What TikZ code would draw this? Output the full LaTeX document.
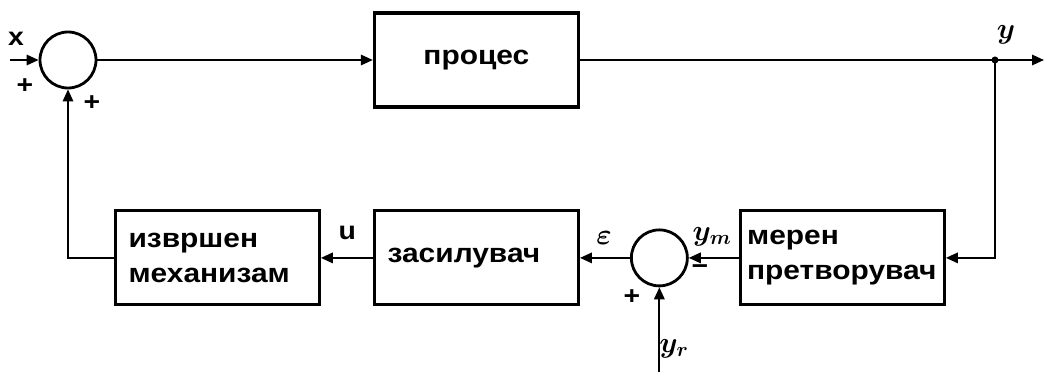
\documentclass[tikz,border=0pt]{standalone}
\usepackage{fontspec}
\setmainfont{Liberation Sans}[FakeStretch=1.12]
\usetikzlibrary{shapes,arrows.meta,positioning}

\begin{document}
\begin{tikzpicture}[
	node distance=1.25cm,
	every node/.style={font=\fontsize{19}{25}\selectfont\bfseries},
	block/.style={rectangle, draw, line width=2.2pt, minimum width=5.1cm, minimum height=2.35cm, inner xsep=0pt, text width=4.44cm, align=left},
	sum/.style={circle, draw, line width=2pt, minimum size=1.4cm, inner sep=0pt},
	tag/.style={inner sep=1pt, font=\fontsize{18}{20}\selectfont\bfseries},
	mtag/.style={inner sep=1pt, font=\fontsize{22}{24}\selectfont\boldmath},
	arrow/.style={draw, line width=1.4pt, -{Triangle[length=3mm,width=2.6mm]}}
	]
	
	\useasboundingbox (0,0) rectangle (26.1,-9.3);
	
	% blocks and summing points
	\node (S1) [sum] at (1.7,-1.5) {};
	\node (P) [block, align=center] at (11.91,-1.5) {процес};
	\node (A) [block, below=2.52cm of P] {засилувач};
	\node (S2) [sum, right=of A] {};
	\node (M) [block, right=of S2, text width=4.76cm] {мерен\\претворувач};
	\node (I) [block, left=1.3cm of A] {извршен\\механизам};
	
	% free ends
	\coordinate (xin) at (0.25,-1.5);
	\coordinate (yout) at (26.1,-1.5);
	\coordinate (J) at (24.875,-1.5);
	\coordinate (yr) at (S2 |- 0,-9.3);
	
	% signals
	\draw [arrow] (xin) -- (S1);
	\draw [arrow] (S1) -- (P);
	\draw [arrow] (P) -- (yout);
	\fill (J) circle (2.5pt);
	\draw [arrow] (J) |- (M);
	\draw [arrow] (M) -- (S2);
	\draw [arrow] (S2) -- (A);
	\draw [arrow] (A) -- (I);
	\draw [arrow] (I) -| (S1);
	\draw [arrow] (yr) -- (S2);
	
	% labels
	\node (xl) [tag] at (0.4,-0.98) {x};
	\node (p1) [tag] at (0.62,-2.15) {+};
	\node (p2) [tag] at (2.3,-2.57) {+};
	\node (yl) [mtag] at (25.15,-0.88) {$y$};
	\node (ul) [tag] at (8.68,-5.82) {u};
	\node (el) [mtag] at (15.1,-5.95) {$\varepsilon$};
	\node (yml) [mtag] at (17.8,-5.92) {$y_m$};
	\node (mi) [tag] at (17.5,-6.75) {−};
	\node (p3) [tag] at (15.8,-7.42) {+};
	\node (yrl) [mtag] at (16.85,-8.72) {$y_r$};
	
\end{tikzpicture}
\end{document}
